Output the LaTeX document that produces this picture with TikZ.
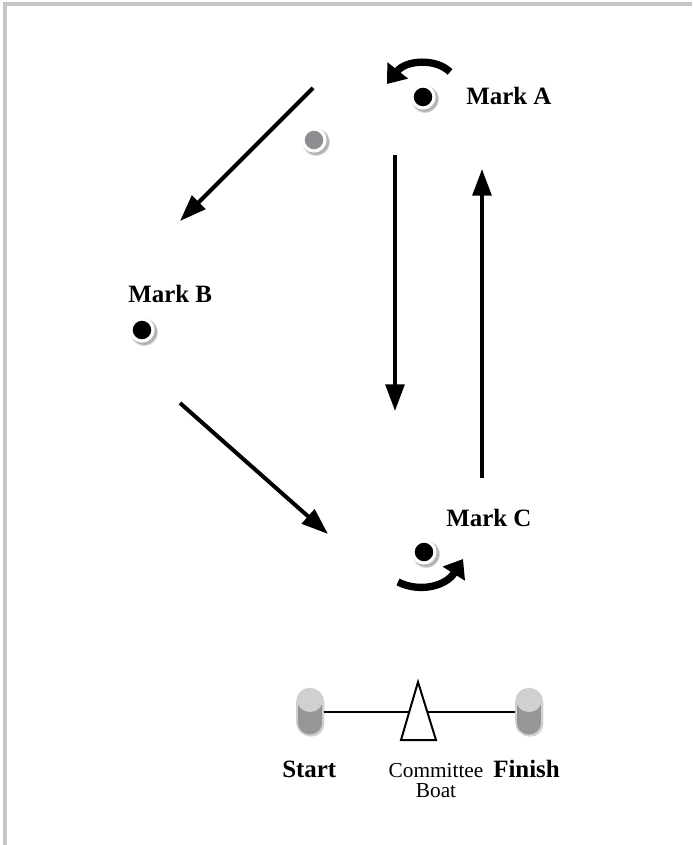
\documentclass[tikz,border=0pt]{standalone}
\usepackage{fontspec}
\setmainfont{Liberation Serif}
\usetikzlibrary{arrows.meta,shadows,positioning}
\definecolor{frameGray}{RGB}{198,198,198}
\definecolor{buoyLight}{RGB}{208,208,208}
\definecolor{buoyDark}{RGB}{150,150,152}
\definecolor{markGray}{RGB}{142,142,146}
\tikzset{
  markdot/.style={circle, fill=black, draw=white, line width=2.4pt, minimum size=16.5pt, inner sep=0pt,
    circular drop shadow={shadow xshift=1pt, shadow yshift=-1pt, shadow scale=1.3, opacity=.6}},
  marklabel/.style={anchor=base west, inner sep=0pt, font=\fontsize{18.7}{22}\selectfont\bfseries},
  legarrow/.style={line width=3pt, -{Triangle[length=20pt,width=14pt]}},
  roundarrow/.style={line width=5.5pt, -{Triangle[length=13pt,width=19pt]}},
  buoy/.style={rectangle, rounded corners=9.5pt, minimum width=19.5pt, minimum height=35pt, inner sep=0pt,
    fill=buoyDark, draw=buoyLight, line width=1.2pt,
    path picture={\fill[buoyLight] (path picture bounding box.north west) rectangle (path picture bounding box.east);},
    drop shadow={shadow xshift=1pt, shadow yshift=-1pt, opacity=.35}}
}
\begin{document}
\begin{tikzpicture}[x=0.75pt,y=0.75pt,yscale=-1,xscale=1]

	\useasboundingbox (0,0) rectangle (692,845);
	\draw [frameGray, line width=3pt] (4.5,845) -- (4.5,4.5) -- (692,4.5);

	\node [markdot] (markA) at (423,97) {};
	\node [markdot, fill=markGray] (offsetMark) at (314,140) {};
	\node [markdot] (markB) at (142,330) {};
	\node [markdot] (markC) at (424,552) {};

	\node [marklabel] (labelA) at (466,105) {Mark A};
	\node [marklabel] (labelB) at (128,302) {Mark B};
	\node [marklabel] (labelC) at (446,526) {Mark C};

	\coordinate (aLeave) at (313,88);
	\coordinate (bArrive) at (180,221);
	\coordinate (bLeave) at (180,403);
	\coordinate (cArrive) at (328,534);
	\coordinate (aDown) at (395,155);
	\coordinate (cDown) at (395,411);
	\coordinate (cUp) at (482,478);
	\coordinate (aUp) at (482,169);

	\draw [legarrow] (aLeave) -- (bArrive);
	\draw [legarrow] (bLeave) -- (cArrive);
	\draw [legarrow] (aDown) -- (cDown);
	\draw [legarrow] (cUp) -- (aUp);

	\draw [roundarrow] (450,72) .. controls (436,58) and (406,60) .. (387,84);
	\draw [roundarrow] (398,582) .. controls (420,593) and (446,586) .. (463,559);

	\node [buoy] (startBuoy) at (310,712) {};
	\node [buoy] (finishBuoy) at (529,712) {};
	\draw [line width=1pt] (startBuoy.east) -- (finishBuoy.west);
	\coordinate (boat) at (419,711);
	\draw [line width=1.5pt, fill=white] (401,740) -- (418,682) -- (436,740) -- cycle;

	\node [anchor=base west, inner sep=0pt, font=\fontsize{18.7}{22}\selectfont\bfseries] (startLabel) at (282,777) {Start};
	\node [anchor=base west, inner sep=0pt, font=\fontsize{18.7}{22}\selectfont\bfseries] (finishLabel) at (493,777) {Finish};
	\node [anchor=base, inner sep=0pt, align=center, font=\fontsize{16}{15}\selectfont] (boatLabel) at (436,797) {Committee\\Boat};
	\end{tikzpicture}
\end{document}
